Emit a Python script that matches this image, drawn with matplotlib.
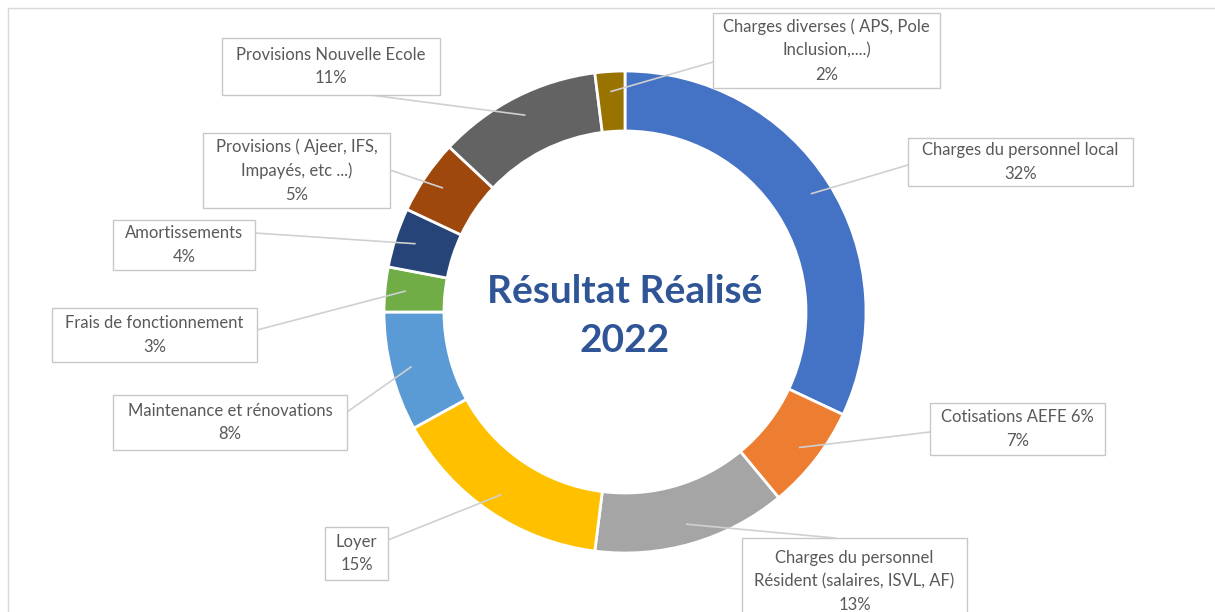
import matplotlib.pyplot as plt
import numpy as np
from matplotlib.patches import Rectangle

labels = ["Charges du personnel local", "Cotisations AEFE 6%",
          "Charges du personnel\nRésident (salaires, ISVL, AF)", "Loyer",
          "Maintenance et rénovations", "Frais de fonctionnement",
          "Amortissements", "Provisions ( Ajeer, IFS,\nImpayés, etc ...)",
          "Provisions Nouvelle Ecole", "Charges diverses ( APS, Pole\nInclusion,....)"]
values = [32, 7, 13, 15, 8, 3, 4, 5, 11, 2]
colors = ["#4472C4", "#ED7D31", "#A5A5A5", "#FFC000", "#5B9BD5",
          "#70AD47", "#264478", "#9E480E", "#636363", "#997300"]
title = "Résultat Réalisé\n2022"

# label boxes in pixel coords (x0, y0, x1, y1) from top-left, and where the leader line attaches
boxes = [(908, 138, 1133, 186), (930, 403, 1105, 455), (742, 538, 967, 625),
         (325, 527, 388, 580), (113, 395, 347, 450), (52, 308, 257, 362),
         (113, 220, 255, 270), (203, 133, 390, 208), (222, 38, 440, 95),
         (713, 13, 940, 88)]
attach = [(908, 165), (930, 432), (835, 538), (388, 540), (347, 412),
          (257, 330), (255, 233), (390, 170), (355, 93), (713, 62)]

W, H = 1215, 612
fig = plt.figure(figsize=(W / 100, H / 100), dpi=100)
ax = fig.add_axes([0, 0, 1, 1])

cx, cy, R = 625, H - 312, 241
wedges, _ = ax.pie(values, colors=colors, startangle=90, counterclock=False,
                   center=(cx, cy), radius=R, frame=True,
                   wedgeprops=dict(width=60, edgecolor="white", linewidth=2))
ax.set_xlim(0, W)
ax.set_ylim(0, H)
ax.set_aspect("equal")
ax.axis("off")

# chart frame
ax.add_patch(Rectangle((8, -5), W, H - 8 + 5, fill=False, edgecolor="#D9D9D9", lw=1))

ax.text(cx, H - 316, title, ha="center", va="center", fontsize=28, fontweight="bold",
        color="#2F5597", family=["Lato", "DejaVu Sans"], linespacing=1.45)

cum = np.cumsum([0] + values[:-1])
for i, (lab, v) in enumerate(zip(labels, values)):
    ang = np.deg2rad(90 - (cum[i] + v / 2) * 3.6)
    r = R - 20
    px, py = cx + r * np.cos(ang), cy + r * np.sin(ang)
    ax_, ay_ = attach[i]
    ax.plot([ax_, px], [H - ay_, py], color="#D0D0D0", lw=1.2, zorder=1)
    x0, y0, x1, y1 = boxes[i]
    ax.add_patch(Rectangle((x0, H - y1), x1 - x0, y1 - y0, facecolor="white",
                           edgecolor="#C8C8C8", lw=1, zorder=2))
    ax.text((x0 + x1) / 2, H - (y0 + y1) / 2, f"{lab}\n{v}%", ha="center", va="center",
            fontsize=12, color="#595959", family=["Lato", "DejaVu Sans"],
            linespacing=1.6, zorder=3)

fig.savefig("out.png", dpi=100)
